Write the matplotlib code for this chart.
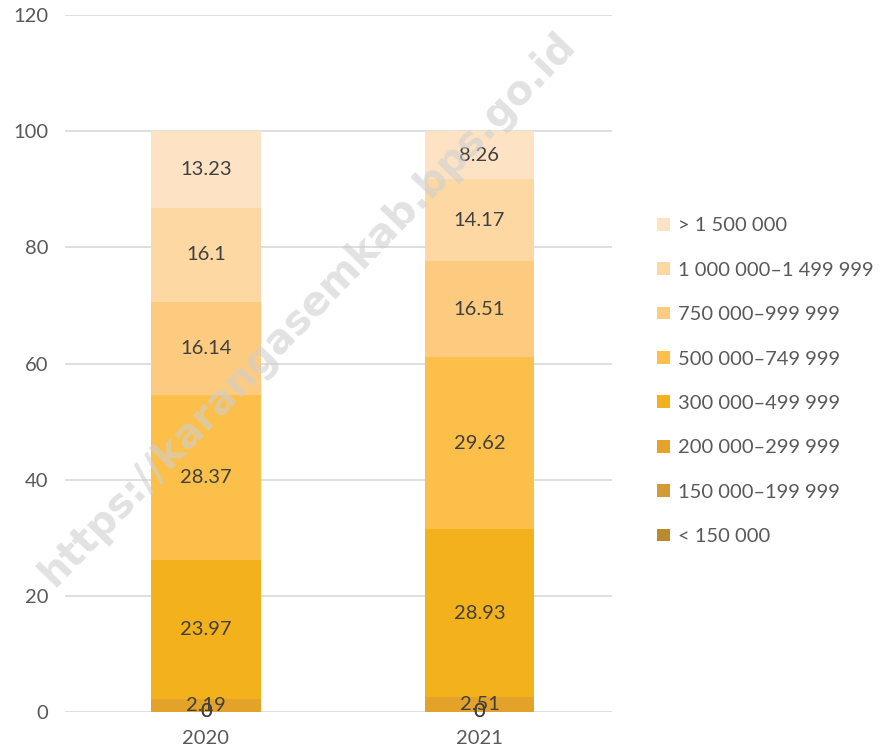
import numpy as np
import matplotlib.pyplot as plt

plt.rcParams['font.family'] = ['Lato', 'DejaVu Sans']

years = ['2020', '2021']
# income brackets, bottom of the stack first
brackets = ['< 150 000', '150 000–199 999', '200 000–299 999', '300 000–499 999',
            '500 000–749 999', '750 000–999 999', '1 000 000–1 499 999', '> 1 500 000']
shares_2020 = [0, 0, 2.19, 23.97, 28.37, 16.14, 16.1, 13.23]
shares_2021 = [0, 0, 2.51, 28.93, 29.62, 16.51, 14.17, 8.26]
colors = ['#B88B2D', '#D39B34', '#E3A22A', '#F3B21B',
          '#FBBF4A', '#FDCB80', '#FDD8A2', '#FDE3C4']

FS = 14.5

fig = plt.figure(figsize=(8.88, 7.55), dpi=100)
ax = fig.add_axes([0.073, 0.057, 0.616, 0.923])

x = np.arange(len(years))
values = np.array([shares_2020, shares_2021])
bottom = np.zeros(len(years))
for i, (name, col) in enumerate(zip(brackets, colors)):
    bars = ax.bar(x, values[:, i], bottom=bottom, width=0.4, color=col,
                  label=name, zorder=2)
    ax.bar_label(bars, labels=[f'{v:g}' for v in values[:, i]],
                 label_type='center', fontsize=FS, color='#404040', zorder=3)
    bottom += values[:, i]

ax.set_xlim(-0.516, 1.484)
ax.set_ylim(0, 120)
ax.set_yticks(range(0, 121, 20))
ax.set_xticks(x)
ax.set_xticklabels(years)
ax.tick_params(axis='both', length=0, labelsize=FS, labelcolor='#595959')
ax.tick_params(axis='y', pad=12)
ax.tick_params(axis='x', pad=13)
ax.yaxis.grid(True, color='#d9d9d9', linewidth=1.2, zorder=0)
ax.set_axisbelow(True)
for s in ax.spines.values():
    s.set_visible(False)

handles, labels = ax.get_legend_handles_labels()
fig.legend(handles[::-1], labels[::-1], loc='center left',
           bbox_to_anchor=(0.72, 0.495), frameon=False, fontsize=FS,
           labelspacing=1.36, handlelength=0.6, handleheight=0.6,
           handletextpad=0.4, labelcolor='#595959')

# source watermark
fig.text(0.347, 0.59, 'https://karangasemkab.bps.go.id', rotation=46,
         ha='center', va='center', fontsize=29, fontweight='bold',
         color='#cfcfcf', alpha=0.6, family='DejaVu Sans', zorder=10)

fig.savefig('out.png', dpi=100)
